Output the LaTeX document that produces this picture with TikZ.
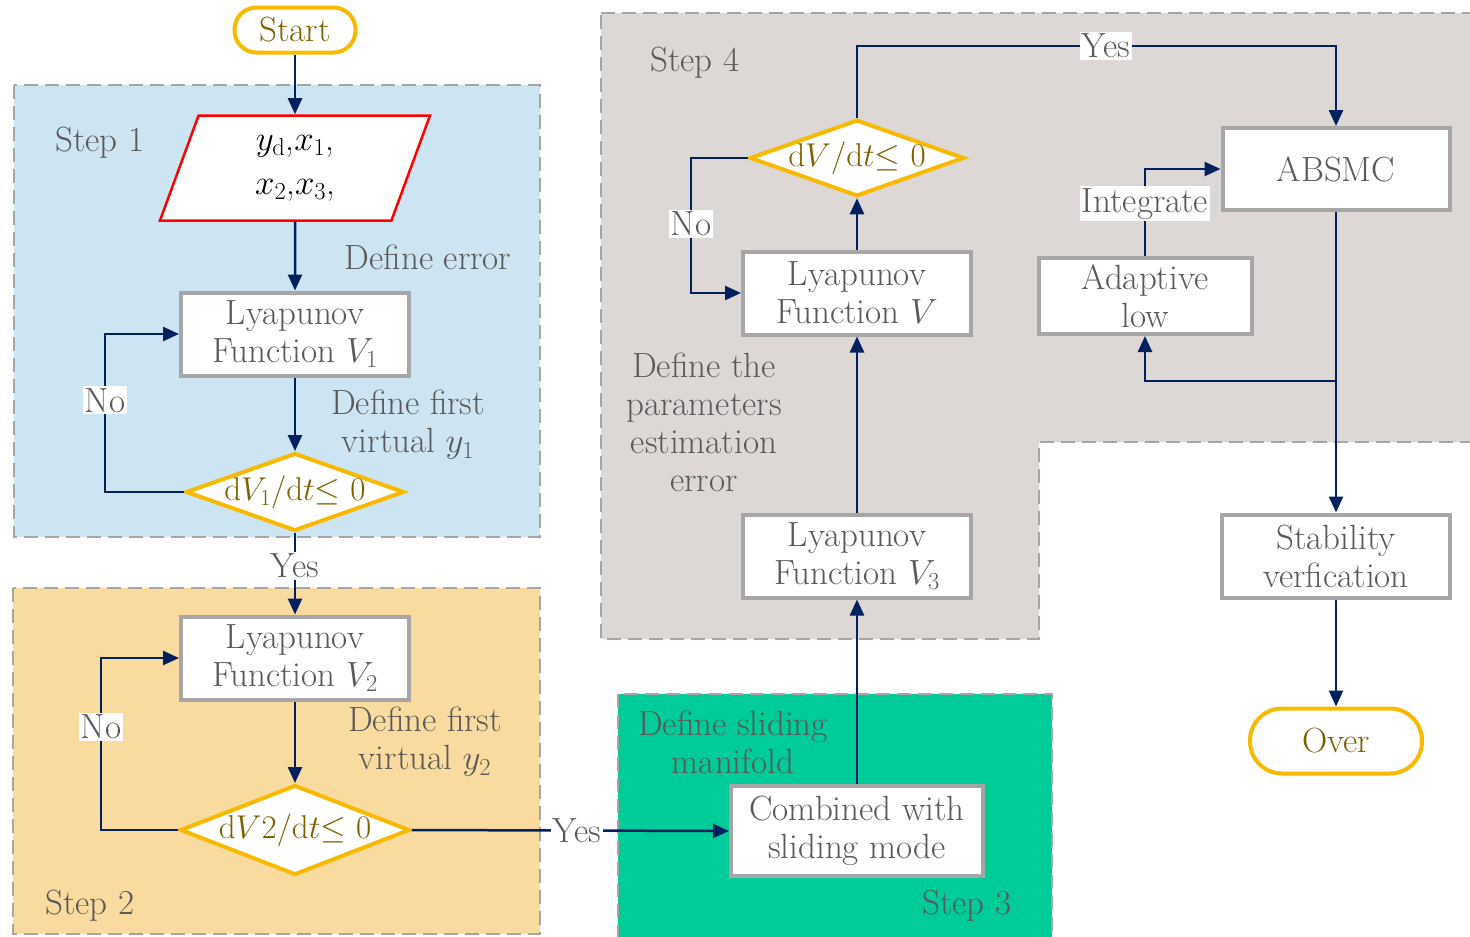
\RequirePackage{fix-cm}
\documentclass[tikz,border=0pt]{standalone}
\usepackage{amsmath}
\usetikzlibrary{arrows.meta, shapes.geometric}

\definecolor{navy}{HTML}{002060}
\definecolor{gold}{HTML}{F7BA00}
\definecolor{olivetxt}{HTML}{7F6000}
\definecolor{txtgray}{HTML}{595959}
\definecolor{boxgray}{HTML}{A6A6A6}
\definecolor{stepblue}{HTML}{CDE4F2}
\definecolor{steporange}{HTML}{F9DBA0}
\definecolor{stepgreen}{HTML}{00CC99}
\definecolor{stepgray}{HTML}{DDD8D6}

\begin{document}
\begin{tikzpicture}[x=1pt, y=-1pt,
  font=\fontsize{35}{38}\selectfont,
  region/.style={draw=boxgray, line width=2pt, dash pattern=on 14pt off 7pt},
  box/.style={
    draw=boxgray, fill=white, line width=4pt, text=txtgray, align=center,
    minimum width=228pt, minimum height=83pt, inner sep=2pt
  },
  terminal/.style={draw=gold, fill=white, line width=4pt, text=olivetxt, inner sep=0pt},
  decision/.style={
    diamond, aspect=2.8, draw=gold, fill=white, line width=4pt,
    text=olivetxt, inner sep=-2pt, font=\fontsize{33}{38}\selectfont
  },
  io/.style={
    trapezium, trapezium left angle=62, trapezium right angle=118,
    trapezium stretches body, draw=red, fill=white, line width=2.5pt,
    align=center, minimum width=270pt, minimum height=105pt
  },
  arr/.style={-{Triangle[length=16pt, width=14pt]}, line width=2.5pt, navy},
  note/.style={text=txtgray, align=center},
  tag/.style={fill=white, text=txtgray, inner sep=2pt}
]
\useasboundingbox (0,0) rectangle (1470,937);

% Step regions
\draw[region, fill=stepblue] (14,85) rectangle (540,537);
\draw[region, fill=steporange] (13,588) rectangle (540,934);
\draw[region, fill=stepgreen] (618,694) rectangle (1052,942);
\draw[region, fill=stepgray] (601,13) -- (1474,13) -- (1474,442) -- (1039,442)
  -- (1039,639) -- (601,639) -- cycle;

\node[note] (s1) at (100,143) {Step 1};
\node[note] (s2) at (90,906) {Step 2};
\node[note] (s3) at (967,906) {Step 3};
\node[note] (s4) at (695,63) {Step 4};

% Left column
\node[terminal, minimum width=121pt, minimum height=45pt, rounded corners=22pt] (start) at (295,30) {Start};
\node[io] (input) at (295,168) {$y_{\mathrm{d}}$,$x_1$,\\[6pt]$x_2$,$x_3$,};
\node[box] (lyap1) at (295,334) {Lyapunov\\Function $V_1$};
\node[decision, minimum width=212pt, minimum height=75pt] (dec1) at (295,492) {d$V_1$/d$t{\leq}$ 0};
\node[box] (lyap2) at (295,658) {Lyapunov\\Function $V_2$};
\node[decision, minimum width=224pt, minimum height=90pt] (dec2) at (295,830) {d$V$2/d$t{\leq}$ 0};

\node[note] (err) at (428,257) {Define error};
\node[note] (virt1) at (408,425) {Define first\\virtual $y_1$};
\node[note] (virt2) at (425,742) {Define first\\virtual $y_2$};

% Middle column
\node[box, minimum width=252pt, minimum height=90pt] (comb) at (857,831) {Combined with\\sliding mode};
\node[box] (lyap3) at (857,556) {Lyapunov\\Function $V_3$};
\node[box] (lyapV) at (857,293) {Lyapunov\\Function $V$};
\node[decision, minimum width=212pt, minimum height=76pt] (dec3) at (857,158) {d$V$/d$t{\leq}$ 0};

\node[note] (manif) at (733,742) {Define sliding\\manifold};
\node[note] (param) at (704,422) {Define the\\parameters\\estimation\\error};

% Right column
\node[box, minimum width=227pt, minimum height=82pt] (absmc) at (1336,169) {ABSMC};
\node[box, minimum width=213pt, minimum height=76pt] (adapt) at (1145,296) {Adaptive\\low};
\node[box] (stab) at (1336,556) {Stability\\verfication};
\node[terminal, minimum width=172pt, minimum height=65pt, rounded corners=32pt] (over) at (1336,741) {Over};
\coordinate (split) at (1336,381);

% Connectors
\draw[arr] (start) -- (input);
\draw[arr] (input) -- (lyap1);
\draw[arr] (lyap1) -- (dec1);
\draw[arr] (dec1.west) -| ([xshift=-74pt]lyap1.west) node[tag, pos=0.79] {No} -- (lyap1.west);
\draw[arr] (dec1.south) -- node[tag, pos=0.4] {Yes} (lyap2.north);
\draw[arr] (lyap2) -- (dec2);
\draw[arr] (dec2.west) -| ([xshift=-78pt]lyap2.west) node[tag, pos=0.8] {No} -- (lyap2.west);
\draw[arr] (dec2.east) -- node[tag, pos=0.52] {Yes} (comb.west);

\draw[arr] (comb) -- (lyap3);
\draw[arr] (lyap3) -- (lyapV);
\draw[arr] (lyapV) -- (dec3);
\draw[arr] (dec3.west) -| ([xshift=-50pt]lyapV.west) node[tag, pos=0.745] {No} -- (lyapV.west);
\draw[arr] (dec3.north) -- (857,46) -| node[tag, pos=0.26] {Yes} (absmc.north);

\draw[arr] (adapt.north) |- node[tag, pos=0.3] {Integrate} (absmc.west);
\draw[arr] (absmc) -- (stab);
\draw[arr] (split) -| (adapt.south);
\draw[arr] (stab) -- (over);

\end{tikzpicture}
\end{document}
